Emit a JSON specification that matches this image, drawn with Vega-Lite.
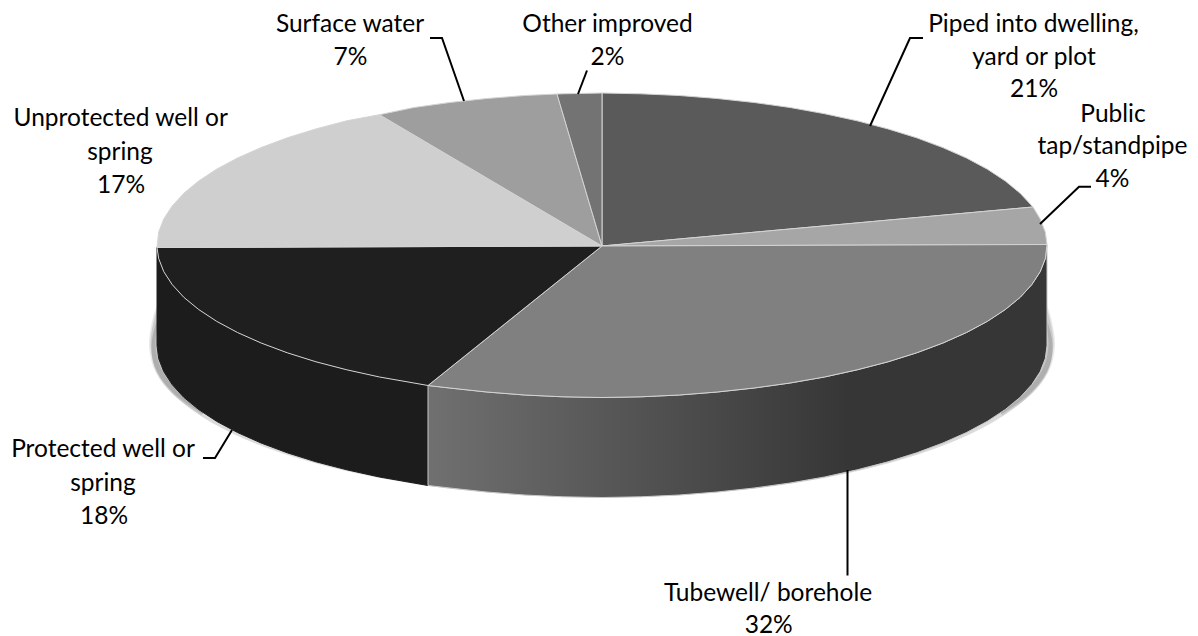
{"$schema":"https://vega.github.io/schema/vega-lite/v6.json","width":1198,"height":636,"padding":0,"autosize":{"type":"none"},"background":"white","view":{"stroke":null},
"datasets":{
"shadow":[{"x":1043,"y":319.1},{"x":1049,"y":345},{"x":1044.2,"y":370.9},{"x":1023.9,"y":396},{"x":990.8,"y":419.5},{"x":946,"y":440.8},{"x":890.6,"y":459.1},{"x":826.5,"y":474},{"x":755.6,"y":485},{"x":680,"y":491.7},{"x":602,"y":494},{"x":524,"y":491.7},{"x":448.4,"y":485},{"x":377.5,"y":474},{"x":313.4,"y":459.1},{"x":258,"y":440.8},{"x":213.2,"y":419.5},{"x":180.1,"y":396},{"x":159.8,"y":370.9},{"x":155,"y":345},{"x":161,"y":319.1}],
"haloR":[{"x":1040,"y":300},{"x":1047,"y":318},{"x":1051,"y":345},{"x":1045,"y":370},{"x":1028,"y":392},{"x":1000,"y":412}],
"haloL":[{"x":164,"y":300},{"x":157,"y":318},{"x":153,"y":345},{"x":159,"y":370},{"x":176,"y":392},{"x":204,"y":412}],
"sideTube":[{"x":428,"y":385.5},{"x":449.8,"y":388},{"x":486.8,"y":392},{"x":524.7,"y":395},{"x":563.2,"y":396.8},{"x":602,"y":397.5},{"x":640.8,"y":396.8},{"x":679.3,"y":395},{"x":717.2,"y":392},{"x":754.2,"y":388},{"x":790.1,"y":383},{"x":824.5,"y":377},{"x":857.2,"y":369.8},{"x":888,"y":361.8},{"x":916.7,"y":352.8},{"x":942.9,"y":343},{"x":966.5,"y":332.5},{"x":987.4,"y":321.3},{"x":1005.3,"y":309.5},{"x":1020.2,"y":297.3},{"x":1031.8,"y":284.6},{"x":1040.2,"y":271.7},{"x":1045.3,"y":258.6},{"x":1047,"y":245},{"x":1047,"y":345.5},{"x":1045.3,"y":358.6},{"x":1040.2,"y":371.7},{"x":1031.8,"y":384.6},{"x":1020.2,"y":397.3},{"x":1005.3,"y":409.5},{"x":987.4,"y":421.3},{"x":966.5,"y":432.5},{"x":942.9,"y":443},{"x":916.7,"y":452.8},{"x":888,"y":461.8},{"x":857.2,"y":469.8},{"x":824.5,"y":477},{"x":790.1,"y":483},{"x":754.2,"y":488},{"x":717.2,"y":492},{"x":679.3,"y":495},{"x":640.8,"y":496.8},{"x":602,"y":497.5},{"x":563.2,"y":496.8},{"x":524.7,"y":495},{"x":486.8,"y":492},{"x":449.8,"y":488},{"x":428,"y":485.5},{"x":428,"y":385.5}],
"sideProt":[{"x":157,"y":247.5},{"x":158.7,"y":258.6},{"x":163.8,"y":271.7},{"x":172.2,"y":284.6},{"x":183.8,"y":297.3},{"x":198.7,"y":309.5},{"x":216.6,"y":321.3},{"x":237.5,"y":332.5},{"x":261.1,"y":343},{"x":287.3,"y":352.8},{"x":316,"y":361.8},{"x":346.8,"y":369.8},{"x":379.5,"y":377},{"x":413.9,"y":383},{"x":428,"y":385.5},{"x":428,"y":485.5},{"x":413.9,"y":483},{"x":379.5,"y":477},{"x":346.8,"y":469.8},{"x":316,"y":461.8},{"x":287.3,"y":452.8},{"x":261.1,"y":443},{"x":237.5,"y":432.5},{"x":216.6,"y":421.3},{"x":198.7,"y":409.5},{"x":183.8,"y":397.3},{"x":172.2,"y":384.6},{"x":163.8,"y":371.7},{"x":158.7,"y":358.6},{"x":157,"y":345.5},{"x":157,"y":247.5}],
"slices":[
{"s":"Piped into dwelling, yard or plot","x":602,"y":246},{"s":"Piped into dwelling, yard or plot","x":602,"y":93},{"s":"Piped into dwelling, yard or plot","x":640.8,"y":93.8},{"s":"Piped into dwelling, yard or plot","x":679.3,"y":95.5},{"s":"Piped into dwelling, yard or plot","x":717.2,"y":98.5},{"s":"Piped into dwelling, yard or plot","x":754.2,"y":102.5},{"s":"Piped into dwelling, yard or plot","x":790.1,"y":107.5},{"s":"Piped into dwelling, yard or plot","x":824.5,"y":113.7},{"s":"Piped into dwelling, yard or plot","x":857.2,"y":120.8},{"s":"Piped into dwelling, yard or plot","x":888,"y":128.9},{"s":"Piped into dwelling, yard or plot","x":916.7,"y":137.8},{"s":"Piped into dwelling, yard or plot","x":942.9,"y":147.6},{"s":"Piped into dwelling, yard or plot","x":966.5,"y":158},{"s":"Piped into dwelling, yard or plot","x":987.4,"y":169.2},{"s":"Piped into dwelling, yard or plot","x":1005.3,"y":181},{"s":"Piped into dwelling, yard or plot","x":1020.2,"y":193.3},{"s":"Piped into dwelling, yard or plot","x":1033,"y":207},{"s":"Piped into dwelling, yard or plot","x":602,"y":246},
{"s":"Public tap/standpipe","x":602,"y":246},{"s":"Public tap/standpipe","x":1033,"y":207},{"s":"Public tap/standpipe","x":1040.2,"y":218.9},{"s":"Public tap/standpipe","x":1045.3,"y":232},{"s":"Public tap/standpipe","x":1047,"y":244.5},{"s":"Public tap/standpipe","x":602,"y":246},
{"s":"Tubewell/ borehole","x":602,"y":246},{"s":"Tubewell/ borehole","x":1047,"y":244.5},{"s":"Tubewell/ borehole","x":1045.3,"y":258.6},{"s":"Tubewell/ borehole","x":1040.2,"y":271.7},{"s":"Tubewell/ borehole","x":1031.8,"y":284.6},{"s":"Tubewell/ borehole","x":1020.2,"y":297.3},{"s":"Tubewell/ borehole","x":1005.3,"y":309.5},{"s":"Tubewell/ borehole","x":987.4,"y":321.3},{"s":"Tubewell/ borehole","x":966.5,"y":332.5},{"s":"Tubewell/ borehole","x":942.9,"y":343},{"s":"Tubewell/ borehole","x":916.7,"y":352.8},{"s":"Tubewell/ borehole","x":888,"y":361.8},{"s":"Tubewell/ borehole","x":857.2,"y":369.8},{"s":"Tubewell/ borehole","x":824.5,"y":377},{"s":"Tubewell/ borehole","x":790.1,"y":383},{"s":"Tubewell/ borehole","x":754.2,"y":388},{"s":"Tubewell/ borehole","x":717.2,"y":392},{"s":"Tubewell/ borehole","x":679.3,"y":395},{"s":"Tubewell/ borehole","x":640.8,"y":396.8},{"s":"Tubewell/ borehole","x":602,"y":397.5},{"s":"Tubewell/ borehole","x":563.2,"y":396.8},{"s":"Tubewell/ borehole","x":524.7,"y":395},{"s":"Tubewell/ borehole","x":486.8,"y":392},{"s":"Tubewell/ borehole","x":449.8,"y":388},{"s":"Tubewell/ borehole","x":428,"y":385.5},{"s":"Tubewell/ borehole","x":602,"y":246},
{"s":"Protected well or spring","x":602,"y":246},{"s":"Protected well or spring","x":428,"y":385.5},{"s":"Protected well or spring","x":413.9,"y":383},{"s":"Protected well or spring","x":379.5,"y":377},{"s":"Protected well or spring","x":346.8,"y":369.8},{"s":"Protected well or spring","x":316,"y":361.8},{"s":"Protected well or spring","x":287.3,"y":352.8},{"s":"Protected well or spring","x":261.1,"y":343},{"s":"Protected well or spring","x":237.5,"y":332.5},{"s":"Protected well or spring","x":216.6,"y":321.3},{"s":"Protected well or spring","x":198.7,"y":309.5},{"s":"Protected well or spring","x":183.8,"y":297.3},{"s":"Protected well or spring","x":172.2,"y":284.6},{"s":"Protected well or spring","x":163.8,"y":271.7},{"s":"Protected well or spring","x":158.7,"y":258.6},{"s":"Protected well or spring","x":157,"y":247.5},{"s":"Protected well or spring","x":602,"y":246},
{"s":"Unprotected well or spring","x":602,"y":246},{"s":"Unprotected well or spring","x":157,"y":247.5},{"s":"Unprotected well or spring","x":158.7,"y":232},{"s":"Unprotected well or spring","x":163.8,"y":218.9},{"s":"Unprotected well or spring","x":172.2,"y":206},{"s":"Unprotected well or spring","x":183.8,"y":193.3},{"s":"Unprotected well or spring","x":198.7,"y":181},{"s":"Unprotected well or spring","x":216.6,"y":169.2},{"s":"Unprotected well or spring","x":237.5,"y":158},{"s":"Unprotected well or spring","x":261.1,"y":147.6},{"s":"Unprotected well or spring","x":287.3,"y":137.8},{"s":"Unprotected well or spring","x":316,"y":128.9},{"s":"Unprotected well or spring","x":346.8,"y":120.8},{"s":"Unprotected well or spring","x":379.5,"y":114.7},{"s":"Unprotected well or spring","x":602,"y":246},
{"s":"Surface water","x":602,"y":246},{"s":"Surface water","x":379.5,"y":114.7},{"s":"Surface water","x":413.9,"y":107.5},{"s":"Surface water","x":449.8,"y":102.5},{"s":"Surface water","x":486.8,"y":98.5},{"s":"Surface water","x":524.7,"y":95.5},{"s":"Surface water","x":557,"y":94},{"s":"Surface water","x":602,"y":246},
{"s":"Other improved","x":602,"y":246},{"s":"Other improved","x":557,"y":94},{"s":"Other improved","x":563.2,"y":93.8},{"s":"Other improved","x":602,"y":93},{"s":"Other improved","x":602,"y":246}],
"leaders":[
{"s":"a","x":923,"y":38},{"s":"a","x":910,"y":38},{"s":"a","x":870,"y":126},
{"s":"b","x":1091,"y":186.7},{"s":"b","x":1079,"y":186.7},{"s":"b","x":1040,"y":224},
{"s":"c","x":847.5,"y":470},{"s":"c","x":847.5,"y":575.5},
{"s":"d","x":203,"y":458},{"s":"d","x":215,"y":458},{"s":"d","x":232,"y":430},
{"s":"e","x":430,"y":38},{"s":"e","x":442,"y":38},{"s":"e","x":464,"y":101},
{"s":"f","x":587,"y":70.5},{"s":"f","x":578,"y":94}],
"labels":[
{"t":"Piped into dwelling,","x":1033.5,"y":32},{"t":"yard or plot","x":1034,"y":64.5},{"t":"21%","x":1034,"y":97},
{"t":"Public","x":1113,"y":122},{"t":"tap/standpipe","x":1112.5,"y":154},{"t":"4%","x":1112.5,"y":187},
{"t":"Tubewell/ borehole","x":768,"y":600.7},{"t":"32%","x":768.7,"y":632.5},
{"t":"Protected well or","x":103,"y":457},{"t":"spring","x":103,"y":491},{"t":"18%","x":104,"y":524},
{"t":"Unprotected well or","x":120.7,"y":126},{"t":"spring","x":120,"y":160},{"t":"17%","x":121,"y":192.7},
{"t":"Surface water","x":350,"y":32},{"t":"7%","x":350.5,"y":65},
{"t":"Other improved","x":607.5,"y":32},{"t":"2%","x":607.5,"y":65}]
},
"encoding":{
"x":{"field":"x","type":"quantitative","scale":{"domain":[0,1198],"nice":false,"zero":false},"axis":null},
"y":{"field":"y","type":"quantitative","scale":{"domain":[636,0],"nice":false,"zero":false},"axis":null}},
"layer":[
{"data":{"name":"haloR"},"mark":{"type":"line","interpolate":"cardinal","stroke":"#000","strokeOpacity":0.09,"strokeWidth":8},"encoding":{"order":{"value":null}}},
{"data":{"name":"haloR"},"mark":{"type":"line","interpolate":"cardinal","stroke":"#000","strokeOpacity":0.12,"strokeWidth":5},"encoding":{"order":{"value":null}}},
{"data":{"name":"haloL"},"mark":{"type":"line","interpolate":"cardinal","stroke":"#000","strokeOpacity":0.09,"strokeWidth":8},"encoding":{"order":{"value":null}}},
{"data":{"name":"haloL"},"mark":{"type":"line","interpolate":"cardinal","stroke":"#000","strokeOpacity":0.12,"strokeWidth":5},"encoding":{"order":{"value":null}}},
{"data":{"name":"shadow"},"mark":{"type":"line","interpolate":"cardinal","stroke":"#000","strokeOpacity":0.14,"strokeWidth":7},"encoding":{"order":{"value":null}}},
{"data":{"name":"sideProt"},"mark":{"type":"line","filled":true,"fill":"#1c1c1c","stroke":"#1c1c1c","strokeWidth":1},"encoding":{"order":{"value":null}}},
{"data":{"name":"sideTube"},"mark":{"type":"line","filled":true,"stroke":"#c8c8c8","strokeWidth":1,"fill":{"gradient":"linear","x1":0,"y1":0,"x2":1,"y2":0,"stops":[{"offset":0,"color":"#707070"},{"offset":0.68,"color":"#363636"},{"offset":1,"color":"#363636"}]}},"encoding":{"order":{"value":null}}},
{"data":{"name":"slices"},"mark":{"type":"line","filled":true,"stroke":"#d4d4d4","strokeWidth":1},"encoding":{"detail":{"field":"s"},"order":{"value":null},"color":{"field":"s","type":"nominal","legend":null,"scale":{"domain":["Piped into dwelling, yard or plot","Public tap/standpipe","Tubewell/ borehole","Protected well or spring","Unprotected well or spring","Surface water","Other improved"],"range":["#5a5a5a","#a6a6a6","#808080","#1f1f1f","#cfcfcf","#9e9e9e","#737373"]}}}},
{"data":{"name":"leaders"},"mark":{"type":"line","stroke":"#000","strokeWidth":2},"encoding":{"detail":{"field":"s"},"order":{"value":null}}},
{"data":{"name":"labels"},"mark":{"type":"text","font":"Lato","fontSize":24.5,"fill":"#000","align":"center","baseline":"alphabetic"},"encoding":{"text":{"field":"t"}}}
]}
